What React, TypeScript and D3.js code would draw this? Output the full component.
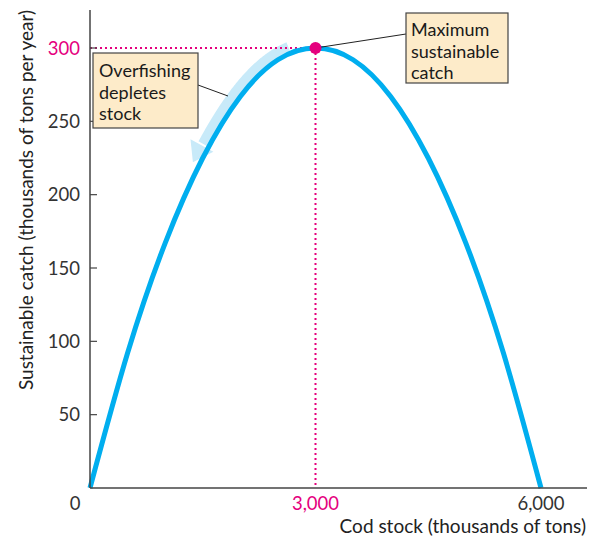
import React, { useEffect, useRef } from "react";
import * as d3 from "d3";

// Cod stock (thousands of tons) and sustainable catch (thousands of tons per year)
const stock = [0, 500, 1000, 1500, 2000, 2500, 3000, 3500, 4000, 4500, 5000, 5500, 6000];
const catchValues = [0, 92, 167, 225, 267, 292, 300, 292, 267, 225, 167, 92, 0];
const yTicks = [50, 100, 150, 200, 250, 300];
const xTicks = [0, 3000, 6000];
const maxStock = 3000;
const maxCatch = 300;
const arrowFrom = 2680;
const arrowTo = 1560;

const W = 593;
const H = 539;
const FONT = "Lato, 'Open Sans', sans-serif";
const PINK = "#E5007E";
const BLUE = "#00AEEF";
const LIGHT = "#C8EAF9";
const AXIS = "#444";
const BOXFILL = "#FDEBC9";

export default function App() {
  const ref = useRef<SVGSVGElement | null>(null);

  useEffect(() => {
    const svg = d3.select(ref.current);
    svg.selectAll("*").remove();

    const x = d3.scaleLinear().domain([0, 6000]).range([90, 541]);
    const y = d3.scaleLinear().domain([0, 300]).range([488, 48]);
    const x0 = x(0), y0 = y(0);

    const data = stock.map((s, i) => [s, catchValues[i]] as [number, number]);
    const line = d3
      .line<[number, number]>()
      .x((d) => x(d[0]))
      .y((d) => y(d[1]))
      .curve(d3.curveNatural);

    // hidden path for sampling arrow
    const sample = svg.append("path").attr("d", line(data)!).attr("fill", "none").attr("stroke", "none");
    const node = sample.node() as SVGPathElement;
    const total = node.getTotalLength();
    const pts: [number, number][] = [];
    const xa = x(arrowTo), xb = x(arrowFrom);
    for (let l = 0; l <= total; l += 1) {
      const p = node.getPointAtLength(l);
      if (p.x >= xa && p.x <= xb) pts.push([p.x, p.y]);
    }
    const off = 6.5;
    const band: [number, number][] = pts.map((p, i) => {
      const a = pts[Math.max(0, i - 1)];
      const b = pts[Math.min(pts.length - 1, i + 1)];
      const dx = b[0] - a[0], dy = b[1] - a[1];
      const len = Math.hypot(dx, dy) || 1;
      let nx = dy / len, ny = -dx / len;
      if (ny > 0) { nx = -nx; ny = -ny; }
      return [p[0] + nx * off, p[1] + ny * off];
    });
    const bandPts = band.slice().reverse();
    const endIdx = bandPts.length - 1;
    const tailPt = bandPts[endIdx];
    const prev = bandPts[Math.max(0, endIdx - 6)];
    const ux0 = tailPt[0] - prev[0], uy0 = tailPt[1] - prev[1];
    const ul = Math.hypot(ux0, uy0) || 1;
    const ux = ux0 / ul, uy = uy0 / ul;
    const headLen = 19, headHalf = 13;
    const bandDraw = bandPts.slice(0, Math.max(1, endIdx - 1));

    svg
      .append("path")
      .attr("d", d3.line()(bandDraw)!)
      .attr("fill", "none")
      .attr("stroke", LIGHT)
      .attr("stroke-width", 10);
    const tip: [number, number] = [tailPt[0] + ux * headLen, tailPt[1] + uy * headLen];
    const l1: [number, number] = [tailPt[0] - uy * headHalf, tailPt[1] + ux * headHalf];
    const r1: [number, number] = [tailPt[0] + uy * headHalf, tailPt[1] - ux * headHalf];
    svg
      .append("path")
      .attr("d", `M${l1[0]},${l1[1]}L${tip[0]},${tip[1]}L${r1[0]},${r1[1]}Z`)
      .attr("fill", LIGHT);

    // dotted guides
    svg
      .append("line")
      .attr("x1", x0).attr("x2", x(maxStock))
      .attr("y1", y(maxCatch)).attr("y2", y(maxCatch))
      .attr("stroke", PINK).attr("stroke-width", 2)
      .attr("stroke-dasharray", "2,3");
    svg
      .append("line")
      .attr("x1", x(maxStock)).attr("x2", x(maxStock))
      .attr("y1", y(maxCatch)).attr("y2", y0)
      .attr("stroke", PINK).attr("stroke-width", 2)
      .attr("stroke-dasharray", "2,3");

    // curve
    svg
      .append("path")
      .attr("d", line(data)!)
      .attr("fill", "none")
      .attr("stroke", BLUE)
      .attr("stroke-width", 5);

    // axes
    svg.append("line").attr("x1", x0).attr("x2", x0).attr("y1", 10).attr("y2", y0)
      .attr("stroke", AXIS).attr("stroke-width", 1.5);
    svg.append("line").attr("x1", x0).attr("x2", 587).attr("y1", y0).attr("y2", y0)
      .attr("stroke", AXIS).attr("stroke-width", 1.5);

    yTicks.forEach((t) => {
      svg.append("line").attr("x1", x0).attr("x2", x0 + 7).attr("y1", y(t)).attr("y2", y(t))
        .attr("stroke", AXIS).attr("stroke-width", 1.2);
      svg.append("text")
        .attr("x", 80).attr("y", y(t) + 6.5)
        .attr("text-anchor", "end")
        .attr("font-family", FONT).attr("font-size", 18.5)
        .attr("fill", t === maxCatch ? PINK : "#333")
        .text(String(t));
    });
    xTicks.forEach((t) => {
      svg.append("text")
        .attr("x", t === 0 ? 75 : x(t)).attr("y", 510)
        .attr("text-anchor", "middle")
        .attr("font-family", FONT).attr("font-size", 18.5)
        .attr("fill", t === maxStock ? PINK : "#333")
        .text(d3.format(",")(t));
    });

    // axis titles
    svg.append("text")
      .attr("x", 586).attr("y", 533)
      .attr("text-anchor", "end")
      .attr("font-family", FONT).attr("font-size", 19)
      .attr("fill", "#222")
      .text("Cod stock (thousands of tons)");
    svg.append("text")
      .attr("transform", `translate(33,200) rotate(-90)`)
      .attr("text-anchor", "middle")
      .attr("font-family", FONT).attr("font-size", 19)
      .attr("fill", "#222")
      .text("Sustainable catch (thousands of tons per year)");

    const px = x(maxStock), py = y(maxCatch);
    svg.append("line").attr("x1", px).attr("y1", py).attr("x2", 406).attr("y2", 34)
      .attr("stroke", "#222").attr("stroke-width", 1);
    svg.append("line").attr("x1", 198).attr("y1", 85).attr("x2", 228).attr("y2", 96)
      .attr("stroke", "#222").attr("stroke-width", 1);

    svg.append("circle").attr("cx", px).attr("cy", py).attr("r", 6).attr("fill", PINK);

    const box = (bx: number, by: number, bw: number, bh: number, lines: string[], tx: number, ty: number) => {
      svg.append("rect").attr("x", bx).attr("y", by).attr("width", bw).attr("height", bh)
        .attr("fill", BOXFILL).attr("stroke", "#444").attr("stroke-width", 1.2);
      lines.forEach((s, i) => {
        svg.append("text").attr("x", tx).attr("y", ty + i * 21.5)
          .attr("font-family", FONT).attr("font-size", 18).attr("fill", "#1a1a1a")
          .text(s);
      });
    };
    box(93, 53, 105, 75, ["Overfishing", "depletes", "stock"], 99, 77);
    box(406, 13, 102, 70, ["Maximum", "sustainable", "catch"], 411, 36);
  }, []);

  return (
    <svg
      ref={ref}
      width={W}
      height={H}
      style={{ position: "absolute", left: 0, top: 0, display: "block", background: "#fff" }}
    />
  );
}
